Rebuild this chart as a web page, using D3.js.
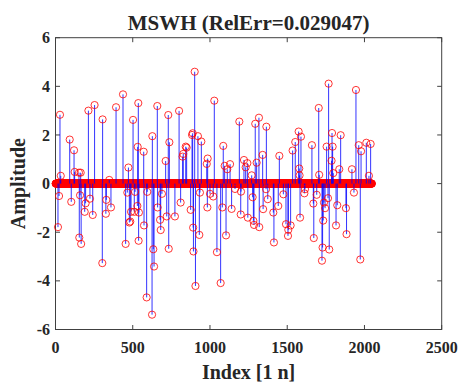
<!DOCTYPE html>
<html>
<head>
<meta charset="utf-8">
<script src="https://cdn.jsdelivr.net/npm/d3@7/dist/d3.min.js"></script>
<style>
  html, body { margin: 0; padding: 0; background: #fff; }
  svg { display: block; }
  text { font-family: "Liberation Serif", "Times New Roman", serif; font-weight: bold; fill: #262626; }
</style>
</head>
<body>
<svg id="chart" width="466" height="383"></svg>
<script>
// ---- data ----
const signalLength = 2048;
const titleText = "MSWH (RelErr=0.029047)";
const xLabel = "Index [1 n]";
const yLabel = "Amplitude";
const xTicks = [0, 500, 1000, 1500, 2000, 2500];
const yTicks = [-6, -4, -2, 0, 2, 4, 6];

const posIdx = [29, 34, 92, 120, 124, 152, 163, 213, 253, 305, 348, 392, 437, 472, 502, 532, 536, 571, 627, 659,
  713, 730, 737, 800, 823, 827, 843, 849, 884, 888, 901, 922, 944, 979, 985, 1028, 1086, 1095, 1112, 1130,
  1190, 1220, 1231, 1242, 1270, 1293, 1302, 1317, 1341, 1365, 1449, 1535, 1552, 1574, 1578, 1580, 1589,
  1660, 1704, 1707, 1755, 1768, 1787, 1790, 1794, 1798, 1837, 1846, 1919, 1945, 1963, 1978, 2012, 2029, 2040];
const posVal = [2.83, 0.32, 1.81, 1.37, 0.48, 0.45, 0.45, 3.00, 3.23, 2.64, 0.15, 3.14, 3.67, 0.66, 2.62, 1.51, 3.31, 1.31, 1.95, 3.19,
  0.93, 2.82, 1.70, 2.99, 1.11, 1.22, 1.52, 1.48, 2.00, 2.07, 4.60, 1.95, 1.73, 0.81, 1.03, 3.41, 1.55, 0.73, 0.59, 0.80,
  2.55, 0.97, 0.67, 0.84, 0.34, 2.46, 0.86, 2.71, 1.18, 2.34, 1.14, 1.36, 1.71, 2.14, 0.62, 0.34, 1.93,
  1.58, 3.11, 0.36, 1.52, 4.11, 0.94, 2.08, 1.52, 0.43, 0.59, 1.99, 0.59, 3.85, 1.58, 1.33, 1.68, 0.32, 1.63];

const negIdx = [16, 23, 102, 154, 159, 166, 189, 195, 223, 241, 303, 326, 329, 359, 454, 465, 478, 484, 489, 510,
  515, 530, 538, 540, 573, 590, 594, 625, 633, 638, 661, 677, 681, 689, 720, 733, 773, 810, 875, 891,
  893, 906, 931, 935, 983, 1000, 1021, 1045, 1069, 1080, 1104, 1140, 1162, 1199, 1201, 1245, 1276, 1281, 1285, 1319,
  1344, 1363, 1374, 1410, 1414, 1442, 1475, 1492, 1505, 1507, 1522, 1583, 1611, 1615, 1669, 1672, 1691, 1725, 1729, 1733,
  1738, 1745, 1764, 1772, 1816, 1824, 1880, 1884, 1932, 1973];
const negVal = [-1.79, -0.51, -0.75, -2.22, -0.48, -2.48, -1.16, -0.81, -0.62, -1.29, -3.27, -1.24, -0.67, -0.98, -2.48, -0.37, -1.60, -1.56, -1.16, -1.16,
  -0.34, -0.92, -2.35, -1.19, -1.72, -4.68, -0.34, -5.39, -2.70, -3.41, -0.98, -1.49, -1.91, -0.42, -1.35, -2.68, -1.35, -0.78, -1.08, -1.81,
  -2.79, -4.21, -2.11, -0.37, -0.98, -0.42, -0.53, -2.82, -4.09, -0.98, -2.13, -1.04, -0.22, -1.27, -0.33, -1.40, -0.56, -1.53, -1.70, -1.79,
  -1.05, -0.23, -0.64, -1.19, -2.42, -0.92, -0.44, -1.67, -2.15, -1.90, -1.72, -1.40, -0.40, -0.23, -0.82, -2.24, -0.46, -3.17, -2.63, -1.52,
  -0.78, -1.01, -0.60, -2.71, -1.72, -0.89, -1.01, -2.08, -0.37, -3.12];

// sparse signal: all samples zero except the listed spikes
const spikes = new Map();
posIdx.forEach((n, i) => spikes.set(n, posVal[i]));
negIdx.forEach((n, i) => spikes.set(n, negVal[i]));
const samples = d3.range(1, signalLength + 1).map(n => ({ n, v: spikes.has(n) ? spikes.get(n) : 0 }));
const zeroSamples = samples.filter(d => d.v === 0);
const spikeSamples = samples.filter(d => d.v !== 0);

// ---- layout ----
const L = 55.5, R = 441.7, T = 37.7, B = 329.5;
const x = d3.scaleLinear().domain([0, 2500]).range([L, R]);
const y = d3.scaleLinear().domain([-6, 6]).range([B, T]);

const svg = d3.select("#chart");
const axisColor = "#404040";

// box
svg.append("rect").attr("x", L).attr("y", T).attr("width", R - L).attr("height", B - T)
  .attr("fill", "none").attr("stroke", axisColor).attr("stroke-width", 1);

const tickLen = 4.5;
const gx = svg.append("g").attr("class", "ticks");
xTicks.forEach(t => {
  gx.append("line").attr("x1", x(t)).attr("x2", x(t)).attr("y1", B).attr("y2", B - tickLen).attr("stroke", axisColor);
  gx.append("line").attr("x1", x(t)).attr("x2", x(t)).attr("y1", T).attr("y2", T + tickLen).attr("stroke", axisColor);
  svg.append("text").attr("x", x(t)).attr("y", 352.5).attr("text-anchor", "middle")
    .attr("font-size", "16px").text(t);
});
yTicks.forEach(t => {
  gx.append("line").attr("x1", L).attr("x2", L + tickLen).attr("y1", y(t)).attr("y2", y(t)).attr("stroke", axisColor);
  gx.append("line").attr("x1", R).attr("x2", R - tickLen).attr("y1", y(t)).attr("y2", y(t)).attr("stroke", axisColor);
  svg.append("text").attr("x", 50).attr("y", y(t) + 5.6).attr("text-anchor", "end")
    .attr("font-size", "16px").text(t);
});

// marks
const r = 3.6;
svg.append("g").selectAll("circle").data(zeroSamples).join("circle")
  .attr("cx", d => x(d.n)).attr("cy", d => y(d.v)).attr("r", r)
  .attr("fill", "none").attr("stroke", "#ff0000").attr("stroke-width", 0.8);

svg.append("g").selectAll("line").data(spikeSamples).join("line")
  .attr("x1", d => x(d.n)).attr("x2", d => x(d.n))
  .attr("y1", y(0)).attr("y2", d => y(d.v))
  .attr("stroke", "#0000ff").attr("stroke-width", 1).attr("stroke-opacity", 0.8);

svg.append("g").selectAll("circle").data(spikeSamples).join("circle")
  .attr("cx", d => x(d.n)).attr("cy", d => y(d.v)).attr("r", r)
  .attr("fill", "none").attr("stroke", "#ff0000").attr("stroke-width", 0.8);

// title & labels
svg.append("text").attr("x", (L + R) / 2).attr("y", 29.5).attr("text-anchor", "middle")
  .attr("font-size", "21px").text(titleText);
svg.append("text").attr("x", (L + R) / 2).attr("y", 379).attr("text-anchor", "middle")
  .attr("font-size", "20px").text(xLabel);
svg.append("text").attr("transform", `translate(25,${(T + B) / 2}) rotate(-90)`).attr("text-anchor", "middle")
  .attr("font-size", "20px").text(yLabel);
</script>
</body>
</html>
